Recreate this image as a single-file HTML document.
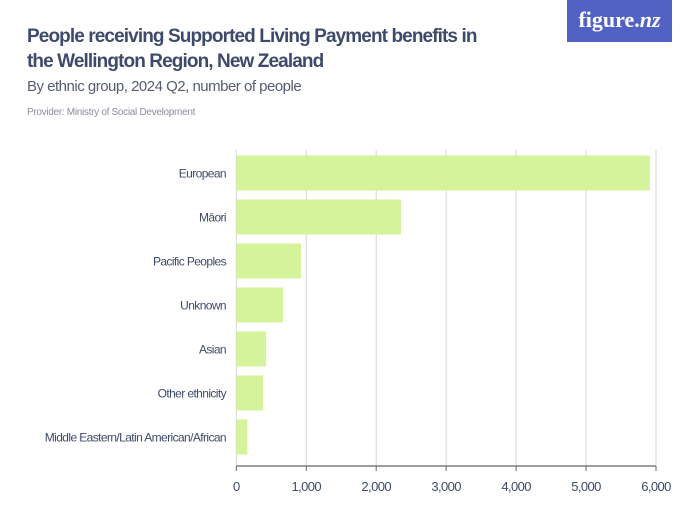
<!DOCTYPE html>
<html><head><meta charset="utf-8"><style>
body{margin:0;width:700px;height:525px;background:#fff;font-family:"Liberation Sans",sans-serif;overflow:hidden;position:relative}
.t{position:absolute;left:27px;color:#3d4a6b;white-space:nowrap}
</style></head><body>
<div class="t" style="top:24px;font-size:19px;font-weight:bold;line-height:25px;letter-spacing:-0.9px">People receiving Supported Living Payment benefits in<br>the Wellington Region, New Zealand</div>
<div class="t" style="top:78px;font-size:15px;color:#555d73;letter-spacing:-0.5px">By ethnic group, 2024 Q2, number of people</div>
<div class="t" style="top:107px;font-size:10px;color:#8a8f9c;letter-spacing:-0.3px">Provider: Ministry of Social Development</div>
<div style="position:absolute;left:567px;top:0;width:105px;height:42px;background:#5262c4;color:#fff;font-family:'Liberation Serif',serif;font-size:22px;font-weight:bold;text-align:center;line-height:40px">figure.<i>nz</i></div>
<svg id="c" width="700" height="525" style="position:absolute;left:0;top:0"></svg>
<script>
const categories=["European","Māori","Pacific Peoples","Unknown","Asian","Other ethnicity","Middle Eastern/Latin American/African"];
const values=[5914,2353,926,667,426,384,158];
const ticks=[0,1000,2000,3000,4000,5000,6000];
const tickLabels=["0","1,000","2,000","3,000","4,000","5,000","6,000"];
const svg=document.getElementById('c');const NS='http://www.w3.org/2000/svg';
const x0=236.3,x1=656,max=6000;const X=v=>x0+(x1-x0)*v/max;
const top0=151,pitch=44,bh=35,axisY=466;
function mk(t,a){const e=document.createElementNS(NS,t);for(const k in a)e.setAttribute(k,a[k]);svg.appendChild(e);return e;}
ticks.forEach((t,i)=>{
 const g=mk('line',{x1:X(t),x2:X(t),y1:150,y2:axisY,stroke:'#d6d6d6','stroke-width':1});
 
 
 const tk=mk('line',{x1:X(t),x2:X(t),y1:axisY,y2:471,stroke:'#666','stroke-width':1});
 
 
 const l=mk('text',{x:X(t),y:491,'text-anchor':'middle','font-size':13,fill:'#3d4a6b','letter-spacing':'-0.6'});
 l.textContent=tickLabels[i];
 
 
});
categories.forEach((c,i)=>{
 const y=top0+pitch*i+4.5;
 const r=mk('rect',{x:x0,y:y,width:X(values[i])-x0,height:bh,fill:'#d4f39a'});
 
 
 const l=mk('text',{x:226,y:y+bh/2+4.5,'text-anchor':'end','font-size':12,fill:'#3d4a6b','letter-spacing':'-0.6'});
 l.textContent=c;
 
 
});
const ax=mk('line',{x1:x0,x2:x1,y1:axisY,y2:axisY,stroke:'#666','stroke-width':1.2});


</script>
</body></html>
